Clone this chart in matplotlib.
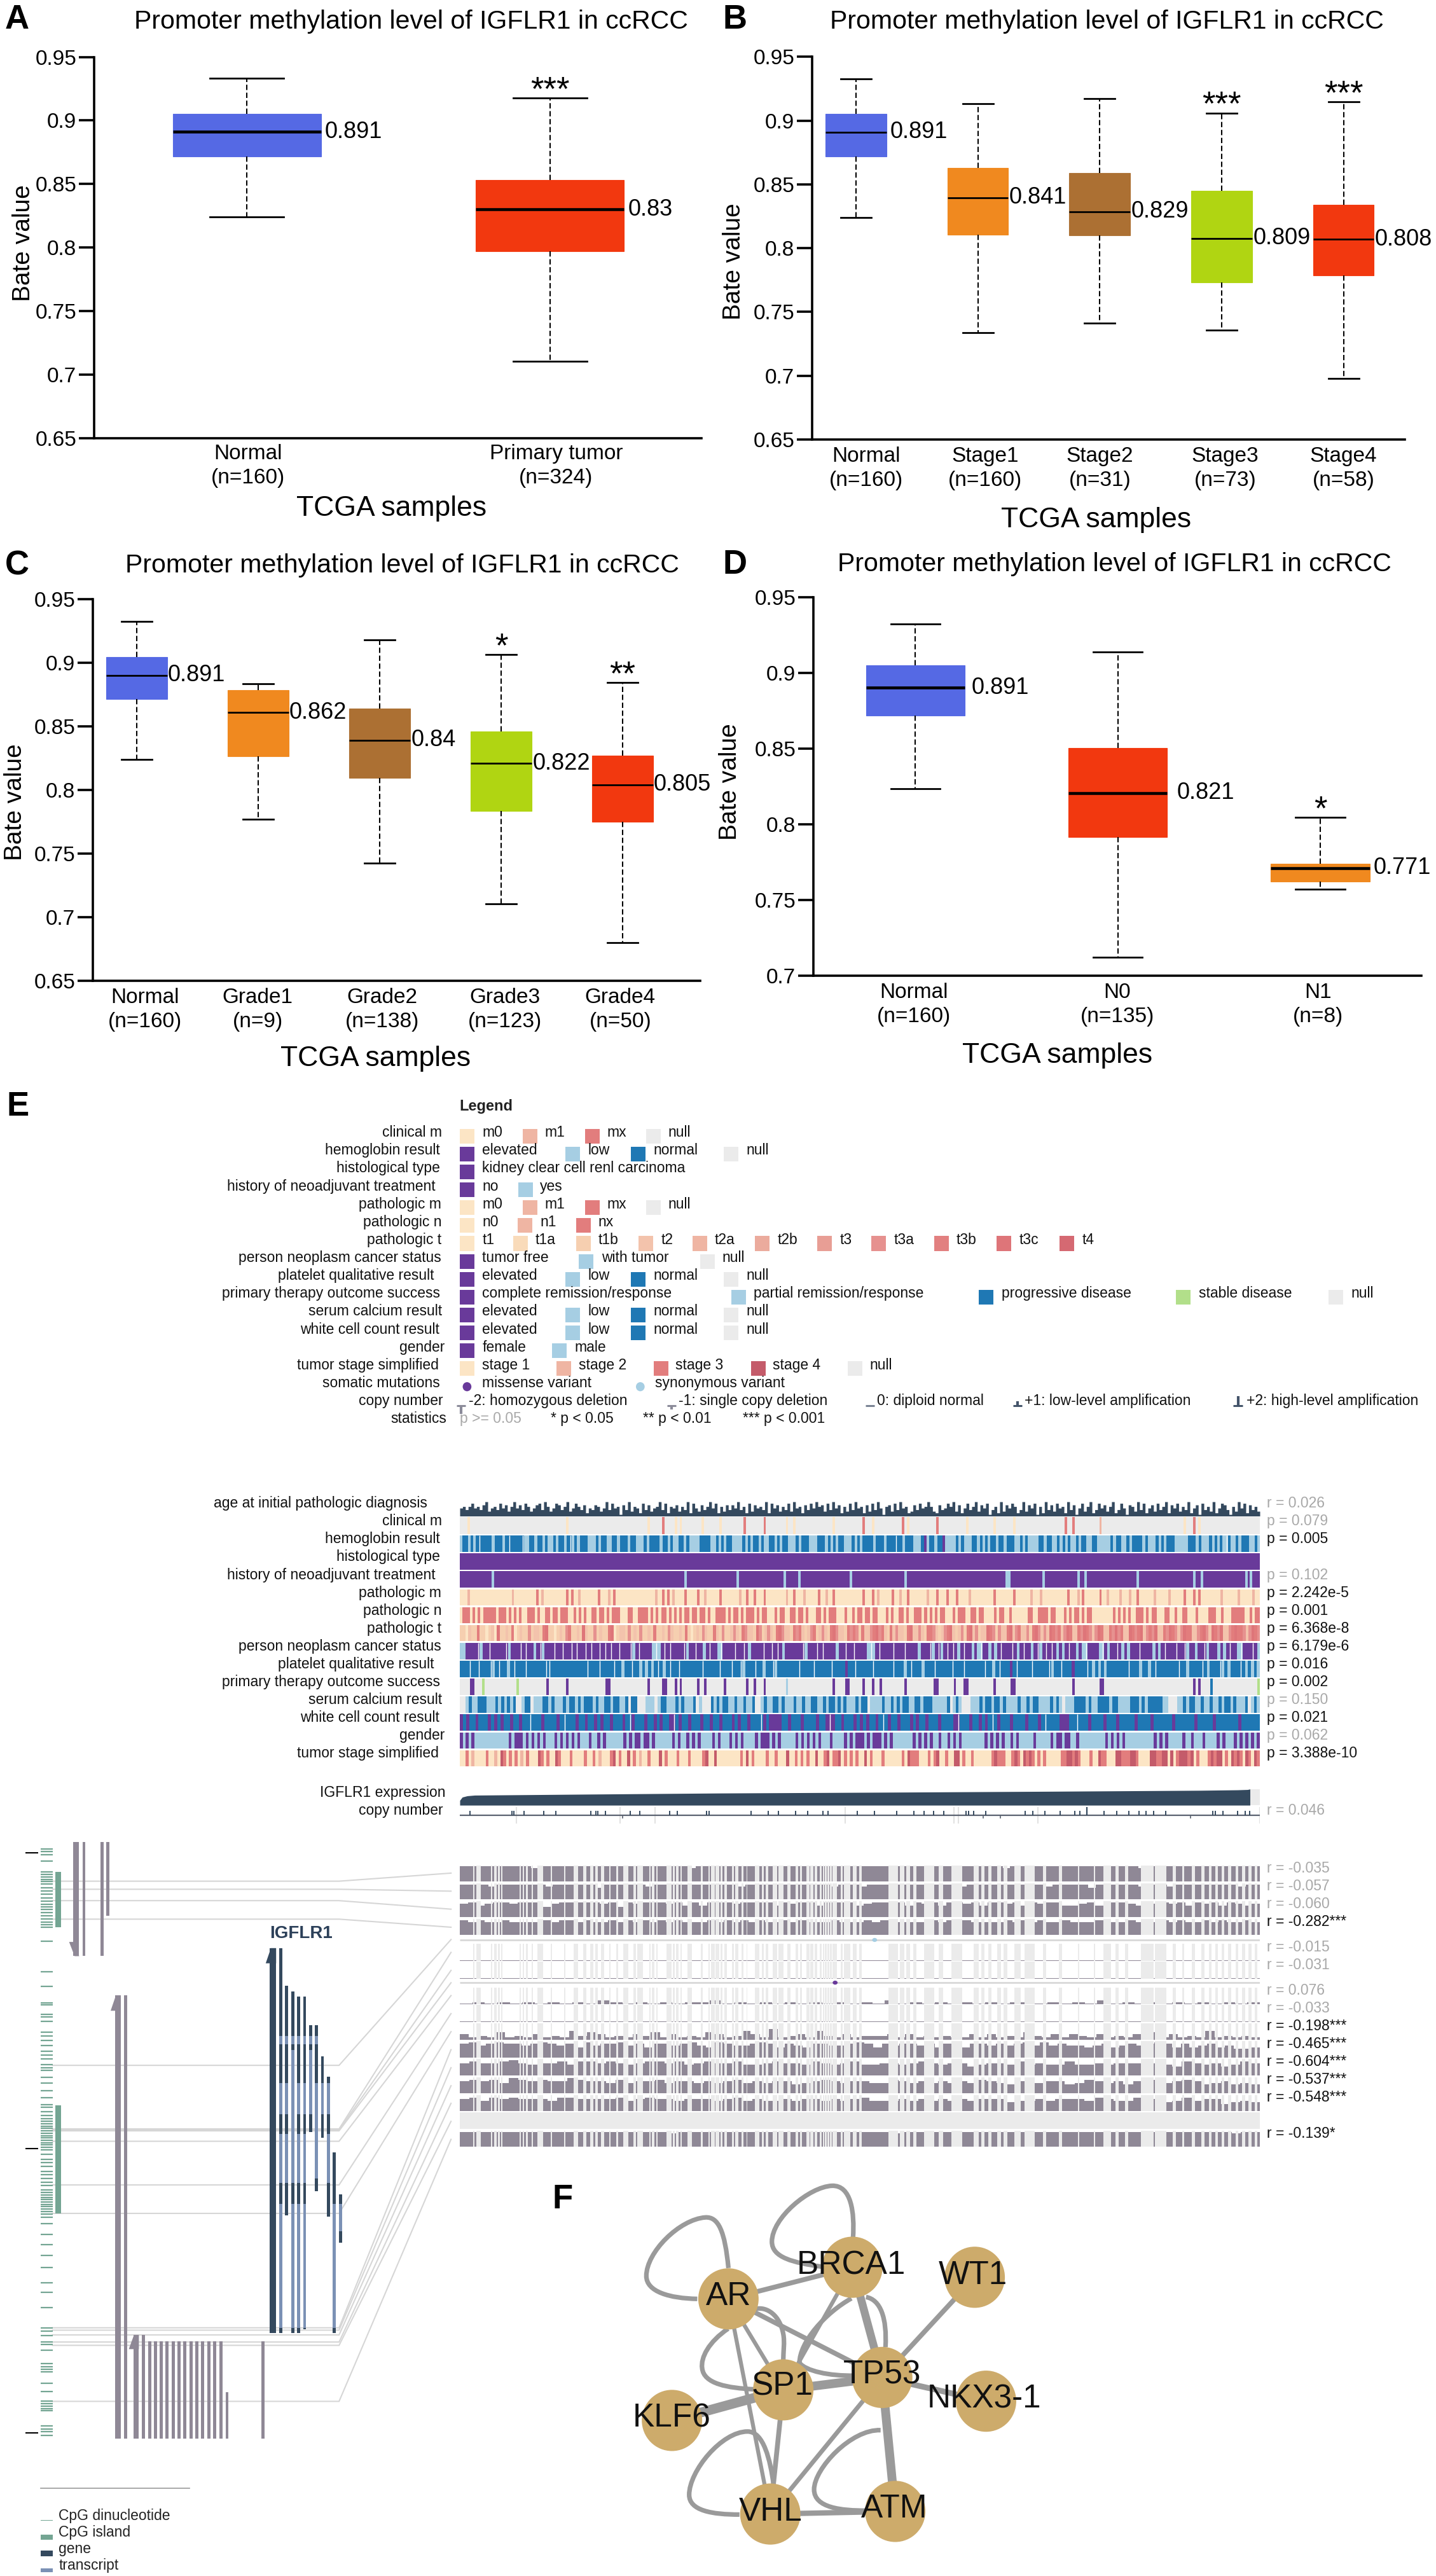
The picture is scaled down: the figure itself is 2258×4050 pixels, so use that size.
import numpy as np
import matplotlib
matplotlib.use('Agg')
import matplotlib.pyplot as plt
from matplotlib.patches import Rectangle, Ellipse, PathPatch, Polygon
from matplotlib.path import Path
from matplotlib.colors import to_rgb

plt.rcParams['font.family'] = ['Liberation Sans', 'DejaVu Sans']
W, H = 2258, 4050
fig = plt.figure(figsize=(W / 100, H / 100), dpi=100, facecolor='white')

# ---------------------------------------------------------------- box data
BLUE, ORANGE, BROWN, GREEN, RED = '#5569E4', '#F0891F', '#AC7033', '#B0D512', '#F2380F'

A_labels = ['Normal\n(n=160)', 'Primary tumor\n(n=324)']
A_lo = [.824, .7105]
A_q1 = [.8715, .797]
A_med = [.891, .830]
A_q3 = [.905, .853]
A_hi = [.933, .9175]
A_text = ['0.891', '0.83']
A_stars = ['', '***']

B_labels = ['Normal\n(n=160)', 'Stage1\n(n=160)', 'Stage2\n(n=31)', 'Stage3\n(n=73)', 'Stage4\n(n=58)']
B_lo = [.824, .7338, .7414, .7357, .6981]
B_q1 = [.872, .8108, .810, .773, .7786]
B_med = [.891, .8397, .8286, .8078, .807]
B_q3 = [.9055, .863, .8592, .8451, .8338]
B_hi = [.933, .9135, .9173, .906, .9146]
B_text = ['0.891', '0.841', '0.829', '0.809', '0.808']
B_stars = ['', '', '', '***', '***']

C_labels = ['Normal\n(n=160)', 'Grade1\n(n=9)', 'Grade2\n(n=138)', 'Grade3\n(n=123)', 'Grade4\n(n=50)']
C_lo = [.824, .7768, .7427, .7107, .6802]
C_q1 = [.8717, .8264, .8094, .7836, .7752]
C_med = [.8901, .8608, .8392, .821, .8042]
C_q3 = [.9047, .8785, .8641, .8462, .8272]
C_hi = [.9327, .8836, .9178, .9064, .8844]
C_text = ['0.891', '0.862', '0.84', '0.822', '0.805']
C_stars = ['', '', '', '*', '**']

D_labels = ['Normal\n(n=160)', 'N0\n(n=135)', 'N1\n(n=8)']
D_lo = [.8235, .7123, .7572]
D_q1 = [.8721, .7916, .7622]
D_med = [.8903, .8208, .7711]
D_q3 = [.9051, .8506, .7741]
D_hi = [.9325, .9142, .8046]
D_text = ['0.891', '0.821', '0.771']
D_stars = ['', '', '*']

Y_TICKS = [.65, .7, .75, .8, .85, .9, .95]
Y_TICK_TEXT = ['0.65', '0.7', '0.75', '0.8', '0.85', '0.9', '0.95']
TITLE = 'Promoter methylation level of IGFLR1 in ccRCC'


def px_axes(x0, y0, x1, y1, **kw):
    return fig.add_axes([x0 / W, 1 - y1 / H, (x1 - x0) / W, (y1 - y0) / H], **kw)


def box_panel(rect, xlim, ylim, lows, q1s, meds, q3s, his, texts, stars, labels, colors,
              label_pos, width, cap, med_lw, val_off, pad, title_xy, xlabel_xy, ylabel_xy, yticks, yticktext):
    x0, y0, x1, y1 = rect
    ax = px_axes(x0, y0, x1, y1)
    ax.patch.set_alpha(0)
    pos = list(range(len(lows)))
    stats = [dict(whislo=a, q1=b, med=c, q3=d, whishi=e, fliers=[]) for a, b, c, d, e in zip(lows, q1s, meds, q3s, his)]
    res = ax.bxp(stats, positions=pos, widths=width, patch_artist=True, showfliers=False,
                 capwidths=cap, manage_ticks=False,
                 whiskerprops=dict(color='k', lw=1.5, ls=(0, (4, 2))),
                 capprops=dict(color='k', lw=2.0),
                 medianprops=dict(color='k', lw=med_lw, solid_capstyle='butt'),
                 boxprops=dict(lw=0.8))
    for b, c in zip(res['boxes'], colors):
        b.set_facecolor(c)
        b.set_edgecolor(c)
    ax.set_xlim(*xlim)
    ax.set_ylim(*ylim)
    for s in ('top', 'right'):
        ax.spines[s].set_visible(False)
    for s in ('left', 'bottom'):
        ax.spines[s].set_linewidth(2.6)
    ax.set_yticks(yticks, yticktext, fontsize=24)
    ax.tick_params(axis='y', length=17, width=2.6, pad=3)
    ax.set_xticks(label_pos, labels, fontsize=24, linespacing=1.28)
    ax.tick_params(axis='x', length=0, pad=pad)
    for i, (m, t) in enumerate(zip(meds, texts)):
        ax.annotate(t, (i + width / 2, m), xytext=(val_off[i] * .72, 0), textcoords='offset points',
                    ha='left', va='center', fontsize=26)
    for i, s in enumerate(stars):
        if s:
            ax.annotate(s, (i, his[i]), xytext=(0, -2), textcoords='offset points', ha='center',
                        va='baseline', fontsize=38)
    ax.set_title(TITLE, fontsize=29.5, x=(title_xy[0] - x0) / (x1 - x0), y=(y1 - title_xy[1]) / (y1 - y0),
                 va='center', pad=0)
    ax.set_xlabel('TCGA samples', fontsize=32)
    ax.xaxis.set_label_coords((xlabel_xy[0] - x0) / (x1 - x0), (y1 - xlabel_xy[1]) / (y1 - y0))
    ax.xaxis.label.set_va('center')
    ax.set_ylabel('Bate value', fontsize=28)
    ax.yaxis.set_label_coords((ylabel_xy[0] - x0) / (x1 - x0), (y1 - ylabel_xy[1]) / (y1 - y0))
    return ax


box_panel((148, 89.5, 1103, 689), (-.504, 1.5), (.65, .95), A_lo, A_q1, A_med, A_q3, A_hi, A_text, A_stars,
          A_labels, [BLUE, RED], [.003, 1.02], .489, .243, 3.3, [6, 6], 6.5, (646, 34), (616, 799), (55, 382),
          Y_TICKS, Y_TICK_TEXT)
box_panel((1277, 89.5, 2209, 691), (-.36, 4.503), (.65, .95), B_lo, B_q1, B_med, B_q3, B_hi, B_text, B_stars,
          B_labels, [BLUE, ORANGE, BROWN, GREEN, RED], [.086, 1.06, 2.0, 3.03, 4.0], .499, .25, 2.0, [6, 1, 2, 2, 1], 8,
          (1740, 34), (1724, 817), (1172, 411), Y_TICKS, Y_TICK_TEXT)
box_panel((146, 942, 1101, 1542), (-.36, 4.638), (.65, .95), C_lo, C_q1, C_med, C_q3, C_hi, C_text, C_stars,
          C_labels, [BLUE, ORANGE, BROWN, GREEN, RED], [.07, .996, 2.02, 3.03, 3.98], .5, .25, 2.0, [1, 1, 2, 2, 1], 8,
          (632, 889), (591, 1664), (42, 1261), Y_TICKS, Y_TICK_TEXT)
box_panel((1279, 939.4, 2235, 1534), (-.504, 2.50), (.70, .95), D_lo, D_q1, D_med, D_q3, D_hi, D_text, D_stars,
          D_labels, [BLUE, RED, ORANGE], [-.007, .998, 1.99], .489, .243, 3.3, [10, 15, 6], 8,
          (1752, 887), (1663, 1659), (1166, 1229), Y_TICKS[1:], Y_TICK_TEXT[1:])

# panel letters
PANEL_LETTERS = ['A', 'B', 'C', 'D', 'E', 'F']
LETTER_X = [8, 1136, 8, 1136, 10, 868]
LETTER_Y = [31, 31, 890, 888, 1740, 3458]
for t, x, y in zip(PANEL_LETTERS, LETTER_X, LETTER_Y):
    fig.text(x / W, 1 - y / H, t, fontsize=38, fontweight='bold', ha='left', va='center')

# ---------------------------------------------------------------- colours of panel E
COL = {'e': '#EBEBEB', 'p': '#693A9A', 'l': '#A6CEE3', 'n': '#1F78B4', 'g': '#B2DF8A', 'w': '#FFFFFF',
       'a': '#FCE5C5', 'b': '#EFB5A3', 'c': '#E27D7D', 'd': '#C45B6A',
       'f': '#F9DBBA', 'h': '#F6CFB0', 'i': '#F3C3AC', 'j': '#EBAB9D', 'k': '#E89E95',
       'm': '#E6918F', 'o': '#E28080', 'q': '#DE7579', 'r': '#D56972'}
DARK = '#34495E'
GRAY_BAR = '#8F8896'


def crop_axes(x, y, w, h, zw=1568, zh=1568):
    ax = px_axes(x, y, x + w, y + h)
    ax.set_xlim(0, zw)
    ax.set_ylim(zh, 0)
    ax.axis('off')
    ax.patch.set_alpha(0)
    return ax


# ---------------------------------------------------------------- legend
H_ITEMS = [('elevated', 'p', 1003, 1052), ('low', 'l', 1234, 1283), ('normal', 'n', 1377, 1425), ('null', 'e', 1579, 1628)]
MM_ITEMS = [('m0', 'a', 1003, 1052), ('m1', 'b', 1140, 1188), ('mx', 'c', 1277, 1325), ('null', 'e', 1410, 1458)]
LEG_ROWS = ['clinical m', 'hemoglobin result', 'histological type', 'history of neoadjuvant treatment',
            'pathologic m', 'pathologic n', 'pathologic t', 'person neoplasm cancer status',
            'platelet qualitative result', 'primary therapy outcome success', 'serum calcium result',
            'white cell count result', 'gender', 'tumor stage simplified', 'somatic mutations', 'copy number', 'statistics']
LEG_RIGHT = [965, 960, 960, 950, 963, 963, 963, 962, 947, 960, 965, 958, 970, 957, 960, 967, 975]
LEG_ITEMS = [
    MM_ITEMS, H_ITEMS, [('kidney clear cell renl carcinoma', 'p', 1003, 1052)],
    [('no', 'p', 1003, 1052), ('yes', 'l', 1131, 1178)], MM_ITEMS,
    [('n0', 'a', 1003, 1052), ('n1', 'b', 1130, 1178), ('nx', 'c', 1257, 1305)],
    [('t1', 'a', 1003, 1052), ('t1a', 'f', 1120, 1168), ('t1b', 'h', 1257, 1305), ('t2', 'i', 1393, 1442),
     ('t2a', 'b', 1511, 1559), ('t2b', 'j', 1647, 1696), ('t3', 'k', 1783, 1833), ('t3a', 'm', 1901, 1951),
     ('t3b', 'o', 2038, 2087), ('t3c', 'q', 2174, 2224), ('t4', 'r', 2312, 2361)],
    [('tumor free', 'p', 1003, 1052), ('with tumor', 'l', 1263, 1312), ('null', 'e', 1527, 1576)],
    H_ITEMS,
    [('complete remission/response', 'p', 1003, 1052), ('partial remission/response', 'l', 1595, 1644),
     ('progressive disease', 'n', 2136, 2185), ('stable disease', 'g', 2566, 2615), ('null', 'e', 2899, 2948)],
    H_ITEMS, H_ITEMS,
    [('female', 'p', 1003, 1052), ('male', 'l', 1204, 1254)],
    [('stage 1', 'a', 1003, 1052), ('stage 2', 'b', 1214, 1263), ('stage 3', 'c', 1426, 1474),
     ('stage 4', 'd', 1638, 1686), ('null', 'e', 1850, 1898)],
]
SOMATIC = [('missense variant', 'p', 1019, 1052), ('synonymous variant', 'l', 1397, 1429)]
CN_TEXT = ['-2: homozygous deletion', '-1: single copy deletion', '0: diploid normal',
           '+1: low-level amplification', '+2: high-level amplification']
CN_TEXT_X = [1022, 1481, 1914, 2236, 2719]
CN_VALUE = [-2, -1, 0, 1, 2]
CN_MARK_X = [1006, 1465, 1898, 2220, 2701]
STAT_TEXT = ['p >= 0.05', '* p < 0.05', '** p < 0.01', '*** p < 0.001']
STAT_X = [1003, 1202, 1403, 1621]
STAT_COL = ['#A8A8A8', '#111111', '#111111', '#111111']

leg = crop_axes(0, 1720, W, 560, zw=W / .7207)
FS = 16.5
leg.text(1003, 55, 'Legend', fontsize=17, fontweight='bold', va='center', color='#222222')
ROW0, STEP = 170, 78.75
for r, (name, rx) in enumerate(zip(LEG_ROWS, LEG_RIGHT)):
    yc = ROW0 + r * STEP
    leg.text(rx, yc, name, fontsize=FS, ha='right', va='center', color='#111111')
    if r < len(LEG_ITEMS):
        for lab, code, sx, tx in LEG_ITEMS[r]:
            leg.add_patch(Rectangle((sx, yc - 17), 32, 65, fc=COL[code], ec='none'))
            leg.text(tx, yc, lab, fontsize=FS, va='center', color='#111111')
yc = ROW0 + 14 * STEP
for lab, code, cx, tx in SOMATIC:
    leg.add_patch(Ellipse((cx, yc + 16), 19, 40, fc=COL[code], ec='none'))
    leg.text(tx, yc, lab, fontsize=FS, va='center', color='#111111')
yc = ROW0 + 15 * STEP
for lab, val, mx, tx in zip(CN_TEXT, CN_VALUE, CN_MARK_X, CN_TEXT_X):
    leg.text(tx, yc, lab, fontsize=FS, va='center', color='#111111')
    base = yc + 20
    c = '#8B8B99' if val < 0 else ('#7B8494' if val == 0 else '#44546A')
    leg.plot([mx - 10, mx + 10], [base, base], color=c, lw=2.2, solid_capstyle='butt')
    if val:
        leg.plot([mx, mx], [base, base + (10 * val * -1 * 2 if val > 0 else -val * 18)], color=c, lw=3, solid_capstyle='butt')
yc = ROW0 + 16 * STEP
for lab, tx, c in zip(STAT_TEXT, STAT_X, STAT_COL):
    leg.text(tx, yc, lab, fontsize=FS, va='center', color=c)

# ---------------------------------------------------------------- clinical tracks
N_SAMPLES = 324
TX0, TX1 = 723, 1981
AGE = ('5646856479356485736957486357849635874693586472547635948561749365284735694826573649285374695826374759462837564928'
       '5736483956274859673849572638495627384951673849562374856963274586937258469375814629375862493758162947385629471583'
       '69248573692485176394825738469275836492571846392587416395827463')
TRACK_NAMES = ['age at initial pathologic diagnosis', 'clinical m', 'hemoglobin result', 'histological type',
               'history of neoadjuvant treatment', 'pathologic m', 'pathologic n', 'pathologic t',
               'person neoplasm cancer status', 'platelet qualitative result', 'primary therapy outcome success',
               'serum calcium result', 'white cell count result', 'gender', 'tumor stage simplified']
TRACK_RIGHT = [932, 965, 960, 960, 950, 963, 963, 963, 962, 947, 960, 965, 958, 970, 957]
TRACK_STAT = ['r = 0.026', 'p = 0.079', 'p = 0.005', '', 'p = 0.102', 'p = 2.242e-5', 'p = 0.001', 'p = 6.368e-8',
              'p = 6.179e-6', 'p = 0.016', 'p = 0.002', 'p = 0.150', 'p = 0.021', 'p = 0.062', 'p = 3.388e-10']
TRACK_SIG = [0, 0, 1, 0, 0, 1, 1, 1, 1, 1, 1, 0, 1, 0, 1]

CLIN_M_M0 = [3, 43, 76, 87, 89, 98, 105, 132, 135, 151, 167, 181, 205, 216, 224, 293, 299]
CLIN_M_M1 = [259]
CLIN_M_MX = [82, 115, 123, 163, 179, 193, 245, 248, 297]
HIST_YES = [13, 91, 112, 131, 137, 158, 180, 221, 222, 236, 250, 253, 274, 297, 300, 318, 320]
PATH_M_M1 = [3, 21, 33, 48, 60, 79, 86, 99, 113, 132, 139, 148, 169, 178, 189, 206, 231, 235, 250, 262, 267, 271, 281, 287, 308, 315, 321]
PATH_M_MX = [31, 43, 45, 56, 62, 82, 84, 91, 96, 105, 116, 119, 123, 135, 145, 151, 163, 167, 175, 181, 193, 197, 201, 216, 224, 246, 252, 259, 274, 293, 297, 299]
THER_P = [4, 5, 35, 43, 59, 60, 76, 82, 83, 87, 89, 96, 99, 107, 116, 119, 123, 151, 156, 157, 163, 167, 170, 180, 192, 193, 200, 204, 205, 216, 223, 224, 248, 259, 260, 297, 299]
THER_G = [9, 23, 323]
THER_N = [304]
THER_L = [132]
HEMO = ('lnnlnlnwnnnnlnnnlnwnnnnwllnnlnnlnllnlnnlnwlnlnnnlllnlnnllnnlnnnlnnlllnlnnnnlnnlnllnnlnllllnnnnllnlnlnnllllnlnlnnlnllnnlnlnn'
        'lllnlnnnlllnnnlnlnlnnlllnlnlnnnnlnnnlnnnwnnlnnnlllnplnnlnnpllllnlnlllnnlnlnlnnlnnlnnnllnlnllllnnlnnllnlnlnllnlnnllnnllll'
        'lnlnnllnlnnnnlnlllnlnlnnnlllllnnnlnlllnlnlnlwnllnlnnnllnl')
PATH_N = ('acccacacacccccacccacacacaacccacaaccaccacccaacacacaaccaccacacccaaaccaaccccacacaccacacacaccaccaccacaaccccacaccacacccacaccaaa'
          'caccaaccaccacaaaccacacccaaacaacaccaccaccaaacacaaccacaacccacacacaccaaacacccaaccaccaaaacaccaacaaaaaaccaaccccaccaaacacaccacac'
          'caaaaaaaacacacacaacccacaccaaaccaacaaccaaacaaaacccaacaaacccccaacacc')
PATH_T = ('hhaihhchhahiaqhhihcahihhmhiihcqhhahihmchhihqihhmhihhcqahiihmhihmhhihchhihmihhihchahihmihhcihmhhimihcmiihqmhimihcqmiihcmci'
          'himchimihcqmiihcmcmhciimcqmcihcimiihcqiimihccmihimcqihimhcqimhiiqcmhmiicqimciimhcqmimiqcmcimqciicmqcmimqciicmqmciiqcmcqimcm'
          'qiicmqcmimqcciimcqmiqcmqiimcqccmimqcm')
PERSON = ('llppppwlppwpppppwlpppwpwpplpwlpppwppwppwpwppwpwppwpwpwppwpppwlpwpppplwlpwpwppppwlppwpplpwpplwppppwppwplppppwppwpwplppppppwlpp'
          'pwpwpppplppwppwpppplwlpwppppwpppwpppplpppwlpwlpwpwplpwpplplwpplplpwpppwplpwpplpwlpwpwplplpwpplplwpppplwplppwplplpppwpppplpl'
          'pwpppwppwlpplppwlppplplpwpplwpppwpl')
PLATELET = ('nnnwnnwnnnwlnwnnlnwnnnwnnnnnnwwnnnnnnnnnnnnwnnnwnnnnwnnlnnwnnlnlnlnwnlnwnnwnnnnnnnwnnnnnwnnnwnnwlnnnwnnlnnwlnnnnnnnwnnnnw'
            'nnnnnwnnnnpnnwnnnnnwnnnnnnwnnnlnwnnnlnnnwnnnnnwnnnwnnnnnnwnnlnwnnnpnwnnnnwnnnnnwlnnwnnnpnnnnwnlnlnlnnnnnnnwnnnlnnlnwnnnn'
            'nnnwnnlnnnnwnlnnnwlnlnnnwnlnlnl')
SERUM = ('eelnllnnnlllnlnlnlneelnnelllnnlnlllnlnnlnlnnnlnllnnlnnllnenneeelllelnnlllnlnlllneleeenlnlnnllnllnllneelnllnnlnlllnllnllnnll'
         'nlnnlnlnlllnlnnellllnllnlnlnnllnnlnnnlllllnelnleeelllnlnnlnnlnllllnllnlnnllllnlnlelllnnnnlnllnnnnlnnllllnnnlnlnnnnnllee'
         'ellnlnnllnllnllnlnnlnlllnelnl')
WHITE = ('pnpnnpnnnpnpnpnnpnnpnnwnnnpnnnnpnwnnnpnnpnnpnpnnpnnnpnwpnnnpnnpnpnnpwnpnnpnnnpnnpnnpnnnpnpnnpnnnwpnppppnnpnnnpnnnnpnnpwpnn'
         'pnnnpnpnpnnpnwnpnnpnnnpnpnnpnnnpnnnnpwnnnpnnpnpnwnpnnnpnnnnpnnnpnwnnnnpppnnwnnnpnnnnpnnnpnnnnnpnnnnpnnnnnnpnnnnnnpnnnnn'
         'pnnnnnnnpnnnnnn')
GENDER = ('plplpllllllllllllplppplplplplplllplplplplplllpllplpllllllplplpplpplpllllllplpllplplpllllplplllplplpllllplppplplplllllplplplp'
          'lplllpllllplplppplplppplplplllllllplplplpllpllplplpllllllllplplplpllplplllllplllllplpplppllplllllllllplplplpllllllllllplp'
          'lplllllpllplllpllllplplllplplplplp')
STAGE = ('aacabaaaacaabadcacacabacaaadcacaadcaaacaaaacaacabaaacdacaadacabaacaaadacaaacaaacaaaacdaadaaaaaaaacadacaaaacaacaaadaacacacaad'
         'aacdaccdacacacaadacaaacaaaaaacadcccaaacacdaacaaddacaacaaaaaacdcccaacdcadcdcacacaaaaaccddcdcaaacaadccaaaddcccddcaaaaddccd'
         'dadacdddcdacaaacdcddacadcdcadcadc')
EXPR_RANK = [0, 1, 3, 6, 50, 105, 170, 240, 300, 315, 319, 320]
EXPR_VALUE = [.30, .50, .58, .62, .68, .75, .80, .86, .92, .95, .97, 1.0]
CN_UP = [4, 21, 22, 26, 34, 39, 53, 55, 56, 59, 69, 73, 85, 88, 100, 101, 118, 125, 129, 136, 141, 147, 149, 161, 168, 177,
         184, 188, 192, 196, 205, 206, 208, 213, 229, 232, 237, 243, 249, 251, 261, 266, 271, 275, 278, 281, 286, 305, 306, 309, 315, 318, 320]
CN_UP2 = [254]
CN_DOWN = [66, 212, 219, 296]
CN_LIGHT = [23, 65, 79, 156, 200, 202, 234, 324]


def events(bg, **codes):
    s = [bg] * N_SAMPLES
    for code, idx_ in codes.items():
        for i in idx_:
            s[i] = code
    return s


CAT_TRACKS = {1: events('e', a=CLIN_M_M0, b=CLIN_M_M1, c=CLIN_M_MX), 2: HEMO, 3: 'p',
              4: events('p', l=HIST_YES), 5: events('a', b=PATH_M_M1, c=PATH_M_MX), 6: PATH_N, 7: PATH_T, 8: PERSON,
              9: PLATELET, 10: events('e', p=THER_P, g=THER_G, n=THER_N, l=THER_L), 11: SERUM, 12: WHITE, 13: GENDER, 14: STAGE}
Z5 = .3571
tracks_lab = crop_axes(0, 2330, W, 560, zw=W / .7207)
TY0 = [80, 155, 236, 315, 393, 472, 551, 630, 708, 787, 865, 944, 1023, 1102, 1181]
TY1 = [150, 230, 308, 387, 466, 544, 623, 701, 780, 859, 938, 1017, 1096, 1174, 1253]
TLAB = [93, 172, 251, 330, 409, 488, 567, 646, 724, 802, 881, 960, 1038, 1117, 1195]


def track_ax(z0, z1, base=2330, factor=Z5, xmax=N_SAMPLES):
    ax = px_axes(TX0, base + z0 * factor, TX1, base + z1 * factor)
    ax.set_xlim(0, xmax)
    ax.axis('off')
    return ax


for i, name in enumerate(TRACK_NAMES):
    tracks_lab.text(TRACK_RIGHT[i], TLAB[i], name, fontsize=FS, ha='right', va='center', color='#111111')
    if TRACK_STAT[i]:
        fig.text(1992 / W, 1 - (2330 + TLAB[i] * Z5) / H, TRACK_STAT[i], fontsize=FS, va='center',
                 color='#111111' if TRACK_SIG[i] else '#A8A8A8')
    a = track_ax(TY0[i], TY1[i])
    if i == 0:
        h = np.array([int(c) / 10 for c in AGE] + [0.5])
        a.fill_between(np.linspace(0, N_SAMPLES, len(h)), 0, h, step='post', color=DARK, lw=0)
        a.set_ylim(0, 1)
    else:
        seq = list(CAT_TRACKS[i])
        hair = []
        for k, c in enumerate(seq):
            if c == 'w':
                hair.append((k + .5) / len(seq) * N_SAMPLES)
                seq[k] = seq[k - 1] if k else 'n'
        rgb = np.array([[to_rgb(COL[c]) for c in seq]])
        a.imshow(rgb, aspect='auto', interpolation='nearest', extent=(0, N_SAMPLES, 0, 1))
        if hair:
            a.vlines(hair, 0, 1, color='white', lw=1.0)
        a.set_xlim(0, N_SAMPLES)
        a.set_ylim(0, 1)

tracks_lab.text(972, 1367, 'IGFLR1 expression', fontsize=FS, ha='right', va='center', color='#111111')
tracks_lab.text(967, 1447, 'copy number', fontsize=FS, ha='right', va='center', color='#111111')
a = track_ax(1352, 1423)
a.set_ylim(0, 1)
a.bar([320], [1], width=4, align='edge', color=COL['e'])
a.fill_between(EXPR_RANK, 0, EXPR_VALUE, color=DARK, lw=0)
a = track_ax(1430, 1505)
a.set_ylim(-37.5, 37.5)
a.vlines(CN_LIGHT, -37.5, 37.5, color='#E2E2E2', lw=1.5)
a.hlines(0, 0, N_SAMPLES, color='#5A6270', lw=1.6)
a.vlines(CN_UP, 0, 19, color='#34495E', lw=1.4)
a.vlines(CN_UP2, 0, 37, color='#34495E', lw=1.6)
a.vlines(CN_DOWN, -14, 0, color='#5A6270', lw=1.2)
fig.text(1992 / W, 1 - (2330 + 1445 * Z5) / H, 'r = 0.046', fontsize=FS, va='center', color='#A8A8A8')

# ---------------------------------------------------------------- methylation rows
METH_Z0 = [148, 228, 306, 385, 493, 572, 685, 763, 842, 922, 1000, 1080, 1158, 1235, 1317]
METH_Z1 = [218, 298, 376, 455, 568, 647, 760, 836, 915, 993, 1072, 1150, 1229, 1307, 1387]
METH_R = ['r = -0.035', 'r = -0.057', 'r = -0.060', 'r = -0.282***', 'r = -0.015', 'r = -0.031', 'r = 0.076', 'r = -0.033',
          'r = -0.198***', 'r = -0.465***', 'r = -0.604***', 'r = -0.537***', 'r = -0.548***', '', 'r = -0.139*']
METH_RY = [160, 240, 318, 397, 508, 587, 698, 777, 856, 934, 1013, 1091, 1170, 0, 1330]
METH_SIG = [0, 0, 0, 1, 0, 0, 0, 0, 1, 1, 1, 1, 1, 0, 1]
METH_LEVEL = [
    '9999999999899999999999999999999989999999999999999999999999999999999999999999899999999999999999989999999999999999',
    '9999899999998999999799999989999999999998999999999999899989999999989999899999999999899999799999989998999999999899',
    '8978998999689999989698999897979998999979899799997899697989799897998979899778979998798989798979878',
    '9898898888989989889898989898889898989889898889888989988889899988889898988988898889898989889898898',
    '0', '0',
    '0101010101021010101120101010101010201010101011010102010101010101',
    '0',
    '3121412131215243121324131214312531612315213122231312121131312142131321312131413121512121',
    '8978988789878697889786887897698778986876887789868788786876887878979787767867878986867867556',
    '7877897677868878767887867877866787768767866776787677567768676686676777876587675687',
    '7878698787798776867786776767867677567876776687676767687657667756876757686787567565',
    '7868787776887777867877677767867667677676786667676767677756676777687668775686774565',
    '',
    '9999999999999999999999899999999999999999999999899999999999999999999999999999999999899',
]
# probe columns that carry data, left part read at 2.45 crop px per image px, right part at ~1 crop px per image px
COL_FROM_L = [8, 63, 88, 133, 150, 162, 172, 242, 256, 270, 290, 328, 363, 415, 462, 495, 523, 540, 563, 587, 617, 657, 685,
              713, 743, 757, 770, 823, 835, 850, 862, 902, 942, 970, 990, 1008, 1020, 1037, 1063, 1080, 1100, 1115, 1162, 1178,
              1195, 1230, 1255, 1282, 1310, 1325, 1355, 1370, 1385, 1402, 1410, 1420, 1430, 1440, 1460, 1482, 1512, 1537]
COL_TO_L = [58, 70, 128, 140, 155, 167, 237, 250, 262, 283, 305, 357, 410, 447, 482, 510, 530, 550, 582, 610, 637, 677, 690,
            737, 748, 765, 803, 828, 840, 857, 885, 937, 965, 975, 993, 1012, 1027, 1055, 1067, 1092, 1112, 1143, 1172, 1185,
            1212, 1234, 1270, 1302, 1318, 1343, 1358, 1374, 1395, 1405, 1414, 1424, 1434, 1444, 1475, 1486, 1522, 1545]
COL_FROM_R = [658, 715, 725, 735, 745, 773, 787, 817, 843, 852, 863, 878, 888, 910, 932, 950, 975, 1002, 1027, 1053, 1065, 1080,
              1120, 1140, 1155, 1168, 1185, 1200, 1212, 1222, 1232, 1243, 1254, 1265, 1275, 1284]
COL_TO_R = [700, 718, 728, 740, 757, 780, 800, 835, 847, 858, 872, 882, 900, 916, 945, 970, 1000, 1025, 1040, 1060, 1075, 1100,
            1122, 1150, 1165, 1180, 1195, 1207, 1218, 1228, 1238, 1250, 1260, 1270, 1280, 1288]
ZX_SPAN = 1266
cf = [d * .4108 - 3.02 for d in COL_FROM_L] + [d - 22 for d in COL_FROM_R]
ct = [d * .4108 - 3.02 for d in COL_TO_L] + [d - 22 for d in COL_TO_R]
gap_start = [0] + ct[:-1]
gap_width = [cf[0]] + [cf[k + 1] - ct[k] for k in range(len(cf) - 1)]
MUT_LINE_Z = [476, 664]
MUT_RANK = [168, 152]
MUT_CODE = ['l', 'p']
for i in range(len(METH_Z0)):
    a = track_ax(METH_Z0[i], METH_Z1[i], base=2880, xmax=ZX_SPAN)
    a.set_ylim(0, 1)
    lev = METH_LEVEL[i]
    if lev:
        h = np.array([(int(c) + .35) / 10 for c in lev] + [.5])
        a.fill_between(np.linspace(0, ZX_SPAN, len(h)), 0, h, step='post', color=GRAY_BAR, lw=0)
        a.bar(gap_start, 1, width=gap_width, align='edge', color=COL['e'], lw=0)
    else:
        a.bar([0], 1, width=ZX_SPAN, align='edge', color=COL['e'], lw=0)
    if METH_R[i]:
        fig.text(1992 / W, 1 - (2880 + METH_RY[i] * Z5) / H, METH_R[i], fontsize=FS, va='center',
                 color='#111111' if METH_SIG[i] else '#A8A8A8')
for z, rk, code in zip(MUT_LINE_Z, MUT_RANK, MUT_CODE):
    a = track_ax(z - 16, z + 16, base=2880)
    a.set_ylim(-1, 1)
    a.hlines(0, 0, N_SAMPLES, color='#D8D8D8', lw=2)
    a.add_patch(Ellipse((rk, 0), 2.0, 1.1, fc=COL[code], ec='none', zorder=3))

# ---------------------------------------------------------------- gene model (panel E, left)
g = crop_axes(0, 2880, 800, 1170)
SCALE_Y = [44, 667, 1267]
CPG_DINUC = [36, 42, 48, 62, 85, 90, 95, 100, 105, 110, 118, 125, 132, 140, 146, 153, 158, 164, 170, 177, 183, 190, 196, 201,
             231, 295, 326, 360, 365, 385, 390, 400, 422, 430, 440, 450, 462, 470, 478, 490, 497, 503, 517, 530, 545, 560, 575,
             580, 590, 598, 605, 610, 615, 620, 625, 630, 635, 640, 645, 650, 655, 660, 665, 670, 680, 690, 697, 705, 715, 722,
             730, 738, 745, 755, 760, 765, 770, 775, 780, 785, 790, 795, 800, 805, 812, 825, 848, 870, 892, 918, 950, 970, 1002,
             1045, 1052, 1062, 1075, 1080, 1092, 1120, 1127, 1132, 1138, 1162, 1180, 1200, 1205, 1210, 1215, 1220, 1252, 1258, 1264, 1272]
CPG_ISLAND_TOP = [84, 576]
CPG_ISLAND_BOT = [201, 804]
CPG_C = '#74A593'
CONN_Y = [104, 121, 145, 184, 492, 626, 628, 630, 652, 744, 804, 1045, 1050, 1060, 1075, 1082, 1200]
CONN_END = [87, 125, 163, 201, 227, 254, 292, 318, 345, 383, 421, 459, 497, 535, 572, 610, 648]
for y, e in zip(CONN_Y, CONN_END):
    g.plot([162, 1045, 1390], [y, y, e], color='#D6D6D6', lw=1.5, zorder=1, solid_joinstyle='miter')
g.hlines(SCALE_Y, 78, 117, color='k', lw=1.5)
g.hlines(CPG_DINUC, 125, 162, color=CPG_C, lw=1.6)
for t, b in zip(CPG_ISLAND_TOP, CPG_ISLAND_BOT):
    g.add_patch(Rectangle((171, t), 18, b - t, fc=CPG_C, ec='none'))


def exon(x, w, top, bot, c):
    g.add_patch(Rectangle((x, top), w, bot - top, fc=c, ec='none', zorder=2))


GRAY_X = [254, 309, 327, 382, 437] + [456, 474, 492, 510, 529, 547, 565, 584, 602, 620, 639, 657, 676, 695, 805]
GRAY_TOP = [22, 22, 22, 345, 1060] + [1074] * 13 + [1181, 1074]
GRAY_BOT = [262, 262, 177, 1279, 1279] + [1279] * 15
for x, t, b in zip(GRAY_X, GRAY_TOP, GRAY_BOT):
    exon(x, 9.5, t, b, GRAY_BAR)
# genes with arrow heads
exon(226, 18, 22, 262, GRAY_BAR)
g.add_patch(Polygon([(213, 232), (230, 232), (244, 262), (230, 262)], fc=GRAY_BAR, ec='none', zorder=2))
exon(355, 17, 345, 1279, GRAY_BAR)
g.add_patch(Polygon([(341, 377), (357, 345), (372, 345), (372, 377)], fc=GRAY_BAR, ec='none', zorder=2))
exon(411, 17, 1060, 1279, GRAY_BAR)
g.add_patch(Polygon([(397, 1090), (413, 1060), (428, 1060), (428, 1090)], fc=GRAY_BAR, ec='none', zorder=2))
exon(832, 19, 245, 1056, DARK)
g.add_patch(Polygon([(819, 277), (835, 245), (851, 245), (851, 277)], fc=DARK, ec='none', zorder=2))
TRANS_C = '#7B91B5'
TRANS_X = [860, 879, 897, 915, 934, 952, 970, 989, 1007, 1025, 1044]
TRANS_EDGES = [
    [245, 430, 447, 530, 595, 637, 740, 784, 1045, 1056],
    [324, 430, 447, 530, 595, 637, 740, 808],
    [337, 430, 447, 460, 740, 784, 1045, 1056],
    [347, 430, 447, 530, 595, 637, 740, 784, 1045, 1056],
    [347, 430, 447, 530, 595, 637, 740, 784, 1045, 1048],
    [407, 430, 447, 460, 595, 633],
    [408, 430, 447, 530, 730, 757],
    [473, 530, 595, 644],
    [516, 530, 595, 637, 740, 811],
    [676, 784, 1045, 1056],
    [764, 784, 841, 866],
]
for x, edges in zip(TRANS_X, TRANS_EDGES):
    for k in range(len(edges) - 1):
        exon(x, 9.5, edges[k], edges[k + 1], DARK if k % 2 == 0 else TRANS_C)
g.text(929, 215, 'IGFLR1', fontsize=20, fontweight='bold', ha='center', va='center', color='#2C4059')
g.plot([125, 584], [1383, 1383], color='#999999', lw=1.2)
KEY_TEXT = ['CpG dinucleotide', 'CpG island', 'gene', 'transcript']
KEY_Y = [1441, 1476, 1511, 1546]
KEY_C = [CPG_C, CPG_C, DARK, TRANS_C]
KEY_T = [1450, 1481, 1514, 1552]
KEY_B = [1452, 1491, 1526, 1560]
for t, y, c, a_, b_ in zip(KEY_TEXT, KEY_Y, KEY_C, KEY_T, KEY_B):
    g.add_patch(Rectangle((125, a_), 37, b_ - a_, fc=c, ec='none'))
    g.text(181, y, t, fontsize=16.5, va='center', color='#222222')

# ---------------------------------------------------------------- network (panel F)
n = crop_axes(900, 3400, 800, 650)
NODE = ['AR', 'BRCA1', 'WT1', 'TP53', 'SP1', 'KLF6', 'NKX3-1', 'VHL', 'ATM']
NODE_X = [481, 863, 1240, 955, 650, 307, 1275, 610, 995]
NODE_Y = [517, 397, 435, 815, 862, 978, 905, 1333, 1323]
LABEL_X = [481, 860, 1235, 955, 648, 307, 1270, 610, 993]
LABEL_Y = [507, 390, 428, 805, 850, 970, 898, 1325, 1313]
EDGE_A = ['AR', 'AR', 'AR', 'AR', 'BRCA1', 'BRCA1', 'WT1', 'TP53', 'TP53', 'KLF6', 'SP1', 'TP53', 'TP53', 'VHL', 'SP1']
EDGE_B = ['BRCA1', 'TP53', 'SP1', 'VHL', 'SP1', 'TP53', 'TP53', 'SP1', 'NKX3-1', 'SP1', 'VHL', 'VHL', 'ATM', 'ATM', 'TP53']
EDGE_W = [5.5, 5.5, 4.5, 4.5, 4.5, 9, 5.5, 10, 6.5, 11, 5.5, 5, 10, 6, 6]
EDGE_C = '#9A9A9A'
idx = {k: i for i, k in enumerate(NODE)}
for u, v, w_ in zip(EDGE_A, EDGE_B, EDGE_W):
    n.plot([NODE_X[idx[u]], NODE_X[idx[v]]], [NODE_Y[idx[u]], NODE_Y[idx[v]]], color=EDGE_C, lw=w_, zorder=1)
CURVES = [
    [(481, 400), (470, 260), (450, 205), (410, 208), (330, 215), (228, 340), (228, 430), (228, 490), (300, 515), (385, 517)],
    [(865, 285), (870, 190), (860, 85), (800, 88), (730, 92), (615, 210), (615, 300), (615, 360), (680, 380), (770, 395)],
    [(565, 555), (600, 545), (640, 580), (650, 650), (655, 680), (650, 720), (650, 750)],
    [(480, 630), (420, 680), (395, 740), (400, 780), (405, 840), (480, 855), (560, 860)],
    [(905, 510), (950, 520), (970, 590), (965, 700)],
    [(860, 515), (780, 570), (700, 680), (700, 760), (720, 790), (790, 810), (870, 808)],
    [(515, 1335), (430, 1335), (360, 1320), (360, 1260), (360, 1170), (460, 1020), (540, 1020), (590, 1020), (610, 1130), (620, 1220)],
    [(905, 1320), (830, 1320), (745, 1310), (745, 1240), (745, 1160), (860, 1010), (950, 1015)],
]
for pts in CURVES:
    codes = [Path.MOVETO] + [Path.CURVE4] * (len(pts) - 1)
    n.add_patch(PathPatch(Path(pts, codes), fc='none', ec=EDGE_C, lw=5.2, zorder=1))
for x, y in zip(NODE_X, NODE_Y):
    n.add_patch(Ellipse((x, y), 186, 232, fc='#CDAB6B', ec='none', zorder=3))
for t, x, y in zip(NODE, LABEL_X, LABEL_Y):
    n.text(x, y, t, fontsize=37, ha='center', va='center', color='#111111', zorder=4)

fig.savefig('out.png', dpi=100, facecolor='white')
